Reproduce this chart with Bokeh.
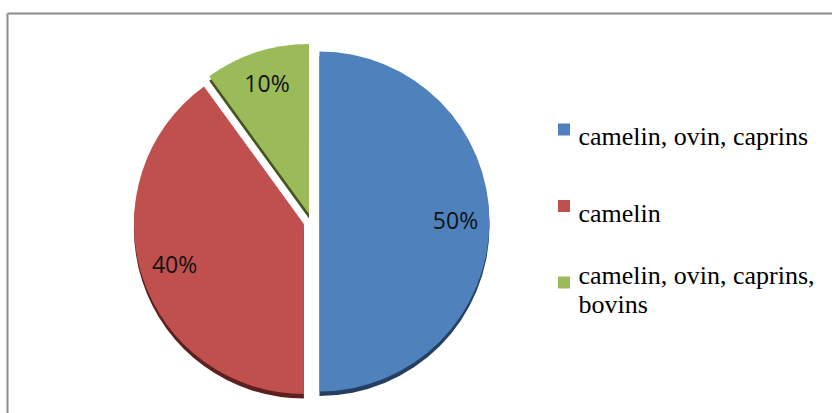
import math
from bokeh.plotting import figure
from bokeh.models import Range1d
from bokeh.core.properties import value
from bokeh.embed import file_html
from bokeh.resources import INLINE

# ---- data ----
categories = ["camelin, ovin, caprins", "camelin", "camelin, ovin, caprins,\nbovins"]
shares = [50, 40, 10]
pct_labels = ["50%", "40%", "10%"]
colors = ["#4F81BD", "#C0504D", "#9BBB59"]
shade_colors = ["#243F60", "#5E201E", "#45551F"]

# ---- layout (pixel-like data coordinates) ----
W, H = 832, 413
p = figure(width=W, height=H, output_backend="svg", toolbar_location=None,
           x_range=Range1d(0, W), y_range=Range1d(0, H), min_border=0)
p.axis.visible = False
p.grid.visible = False
p.outline_line_color = None
p.background_fill_color = "white"
p.border_fill_color = "white"

# chart-area frame (extends past right and bottom edges)
p.segment(x0=[7, 7], y0=[H - 13, H - 13], x1=[W + 10, 7], y1=[H - 13, -10],
          line_color="#8C8C8C", line_width=2)

cx, cy, r = 311.0, 192.0, 170.0
explode = 8.0
shadow_dy = 4.5

total = float(sum(shares))
cum = 0.0
centers = []
angles = []
for s in shares:
    end = math.radians(90 - cum / total * 360)
    start = end - math.radians(s / total * 360)
    cum += s
    mid = (start + end) / 2
    ox = cx + explode * math.cos(mid)
    oy = cy + explode * math.sin(mid)
    centers.append((ox, oy))
    angles.append((start, end, mid))

xs = [c[0] for c in centers]
ys = [c[1] for c in centers]
starts = [a[0] for a in angles]
ends = [a[1] for a in angles]

# shade (bevel/shadow) below
p.wedge(x=xs, y=[y - shadow_dy for y in ys], radius=r, start_angle=starts,
        end_angle=ends, direction="anticlock", fill_color=shade_colors,
        line_color=None)
p.wedge(x=xs, y=ys, radius=r, start_angle=starts, end_angle=ends,
        direction="anticlock", fill_color=colors, line_color=None)

# percentage labels
lab_r = 0.8 * r
lx = [c[0] + lab_r * math.cos(a[2]) for c, a in zip(centers, angles)]
ly = [c[1] + lab_r * math.sin(a[2]) + 2 for c, a in zip(centers, angles)]
p.text(x=lx, y=ly, text=pct_labels, text_align="center", text_baseline="middle",
       text_font=value("'Open Sans', sans-serif"), text_font_size="23px",
       text_color="#111111")

# legend (manual)
sq_x = 563.5
txt_x = 578.0
row0 = 284.0
pitch = 76.5
sq_y = [row0 - i * pitch for i in range(len(categories))]
p.rect(x=[sq_x] * len(categories), y=sq_y, width=12, height=12,
       fill_color=colors, line_color=None)
p.text(x=[txt_x] * len(categories), y=[y - 7 for y in sq_y], text=categories,
       text_align="left", text_baseline="alphabetic",
       text_font=value("'Liberation Serif', serif"), text_font_size="26px",
       text_color="#000000", text_line_height=1.0)

open("out.html", "w").write(file_html(p, INLINE))
